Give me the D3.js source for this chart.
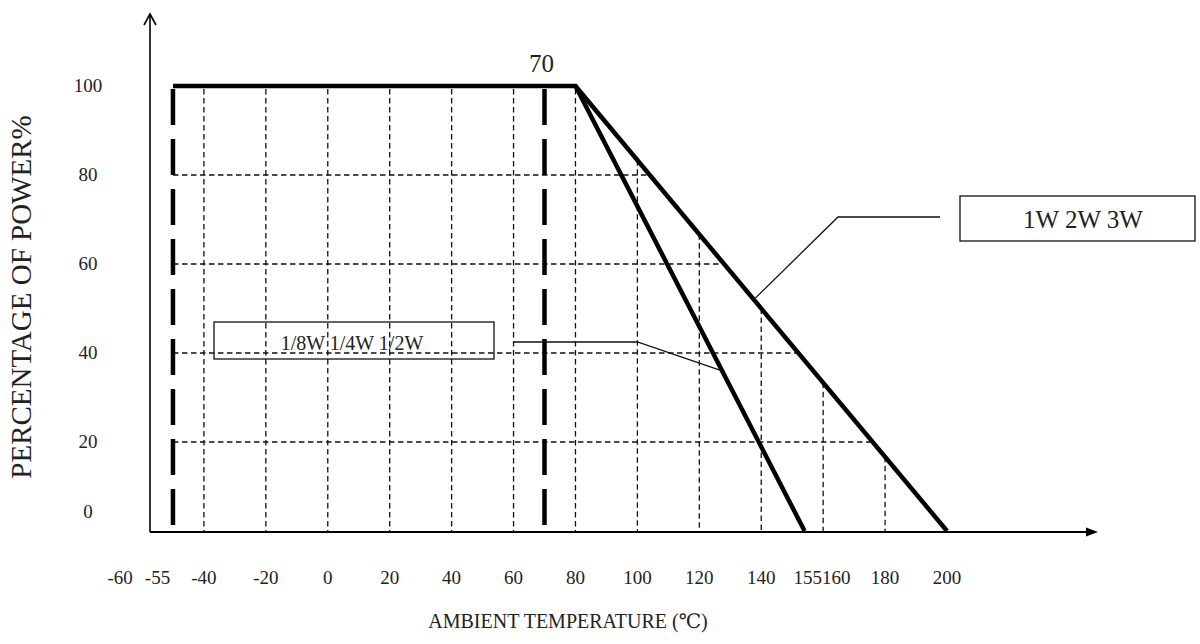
<!DOCTYPE html>
<html>
<head>
<meta charset="utf-8">
<script src="https://cdn.jsdelivr.net/npm/d3@7/dist/d3.min.js"></script>
<style>
  body { margin: 0; background: #fff; }
  text { font-family: "Liberation Serif", "DejaVu Serif", serif; fill: #222; }
</style>
</head>
<body>
<div id="chart"></div>
<script>
// values
var tempTicks  = [-60, -55, -40, -20, 0, 20, 40, 60, 80, 100, 120, 140, 155, 160, 180, 200];
var powerTicks = [0, 20, 40, 60, 80, 100];
var gridTemps  = [-40, -20, 0, 20, 40, 60, 80, 100, 120, 140, 160, 180];
var gridPowers = [20, 40, 60, 80];
var limitTemps = [-50, 70];
var curveSmall = [{t: -50, p: 100}, {t: 80, p: 100}, {t: 154, p: 0}];
var curveLarge = [{t: 80, p: 100}, {t: 200, p: 0}];
var labelSmall = "1/8W 1/4W 1/2W";
var labelLarge = "1W 2W 3W";

var width = 1200, height = 644;
var originX = 150;

var x = d3.scaleLinear().domain([-60, 200]).range([142, 947]);
var y = d3.scaleLinear().domain([0, 100]).range([531, 86]);

var svg = d3.select("#chart").append("svg")
    .attr("width", width).attr("height", height)
    .attr("viewBox", "0 0 " + width + " " + height);

// power on the 1W-3W line at a temperature, and the other way round
var large0 = curveLarge[0], large1 = curveLarge[1];
var pLarge = function(t) { return large0.p + (t - large0.t) * (large1.p - large0.p) / (large1.t - large0.t); };
var tLarge = function(p) { return large0.t + (p - large0.p) * (large1.t - large0.t) / (large1.p - large0.p); };
var small1 = curveSmall[1], small2 = curveSmall[2];
var tSmall = function(p) { return small1.t + (p - small1.p) * (small2.t - small1.t) / (small2.p - small1.p); };

// grid
var grid = svg.append("g").attr("stroke", "#111").attr("stroke-width", 1.3).attr("stroke-dasharray", "5.5,3.5");
grid.selectAll("line.v").data(gridTemps).enter().append("line")
    .attr("class", "v")
    .attr("x1", function(d) { return x(d); })
    .attr("x2", function(d) { return x(d); })
    .attr("y1", function(d) { return d <= large0.t ? y(100) + 3 : y(pLarge(d)); })
    .attr("y2", y(0));
grid.selectAll("line.h").data(gridPowers).enter().append("line")
    .attr("class", "h")
    .attr("x1", x(limitTemps[0]))
    .attr("x2", function(d) { return x(tLarge(d)); })
    .attr("y1", function(d) { return y(d); })
    .attr("y2", function(d) { return y(d); });

// thick dashed temperature limits
svg.selectAll("line.limit").data(limitTemps).enter().append("line")
    .attr("class", "limit")
    .attr("x1", function(d) { return x(d); })
    .attr("x2", function(d) { return x(d); })
    .attr("y1", y(100) + 3)
    .attr("y2", y(0))
    .attr("stroke", "#000").attr("stroke-width", 4.5).attr("stroke-dasharray", "36,14");

// axes
svg.append("line").attr("x1", originX).attr("x2", originX).attr("y1", y(0) + 1).attr("y2", 14)
    .attr("stroke", "#000").attr("stroke-width", 1.6);
svg.append("path").attr("d", "M" + (originX - 6) + ",25L" + originX + ",14L" + (originX + 6) + ",25")
    .attr("fill", "none").attr("stroke", "#000").attr("stroke-width", 1.6);
svg.append("line").attr("x1", originX).attr("x2", 1090).attr("y1", y(0) + 1).attr("y2", y(0) + 1)
    .attr("stroke", "#000").attr("stroke-width", 2);
svg.append("path").attr("d", "M1098," + (y(0) + 1) + "L1086," + (y(0) - 3.5) + "L1086," + (y(0) + 5.5) + "Z")
    .attr("fill", "#000");

// derating curves
var line = d3.line().x(function(d) { return x(d.t); }).y(function(d) { return y(d.p); });
[curveSmall, curveLarge].forEach(function(c) {
  svg.append("path").datum(c).attr("d", line)
      .attr("fill", "none").attr("stroke", "#000").attr("stroke-width", 4.5)
      .attr("stroke-linejoin", "miter");
});

// tick labels; crowded ones are pushed apart (negatives leftwards, the rest rightwards)
var xLabels = svg.append("g").attr("font-size", 19).attr("text-anchor", "middle");
var placed = tempTicks.map(function(d) {
  var t = xLabels.append("text").attr("y", 584).text(d);
  return {d: d, node: t, cx: x(d), w: t.node().getComputedTextLength()};
});
var neg = placed.filter(function(o) { return o.d < 0; }).reverse();
var pos = placed.filter(function(o) { return o.d >= 0; });
for (var i = 1; i < neg.length; i++) {
  var lim = neg[i - 1].cx - neg[i - 1].w / 2 - 12 - neg[i].w / 2;
  neg[i].cx = Math.min(neg[i].cx, lim);
}
for (var j = 1; j < pos.length; j++) {
  var lo = pos[j - 1].cx + pos[j - 1].w / 2 + pos[j].w / 2;
  pos[j].cx = Math.max(pos[j].cx, lo);
}
placed.forEach(function(o) { o.node.attr("x", o.cx); });

svg.append("g").attr("font-size", 19).attr("text-anchor", "middle")
  .selectAll("text").data(powerTicks).enter().append("text")
    .attr("x", 88)
    .attr("y", function(d) { return Math.min(y(d), y(0) - 19) + 6; })
    .text(function(d) { return d; });

svg.append("text").attr("x", x(limitTemps[1]) - 3).attr("y", 72)
    .attr("text-anchor", "middle").attr("font-size", 25).text(limitTemps[1]);

// axis titles
svg.append("text").attr("x", 568).attr("y", 628).attr("text-anchor", "middle")
    .attr("font-size", 20).text("AMBIENT TEMPERATURE (\u2103)");
svg.append("text").attr("transform", "translate(31,297) rotate(-90)").attr("text-anchor", "middle")
    .attr("font-size", 29).text("PERCENTAGE OF POWER%");

// callouts
var callouts = svg.append("g").attr("stroke", "#111").attr("fill", "none");
var smallAt = 36, largeAt = 52;
callouts.append("rect").attr("x", 214).attr("y", 322).attr("width", 280).attr("height", 37).attr("stroke-width", 1.3);
callouts.append("path").attr("stroke-width", 1.3)
    .attr("d", "M514,342L" + x(100) + ",342L" + x(tSmall(smallAt)) + "," + y(smallAt));
callouts.append("rect").attr("x", 960).attr("y", 196).attr("width", 235).attr("height", 45).attr("stroke-width", 1.3);
callouts.append("path").attr("stroke-width", 1.3)
    .attr("d", "M940,217L838,217L" + x(tLarge(largeAt)) + "," + y(largeAt));

svg.append("text").attr("x", 352).attr("y", 350).attr("text-anchor", "middle")
    .attr("font-size", 20).text(labelSmall);
svg.append("text").attr("x", 1083).attr("y", 228).attr("text-anchor", "middle")
    .attr("font-size", 25).text(labelLarge);
</script>
</body>
</html>
